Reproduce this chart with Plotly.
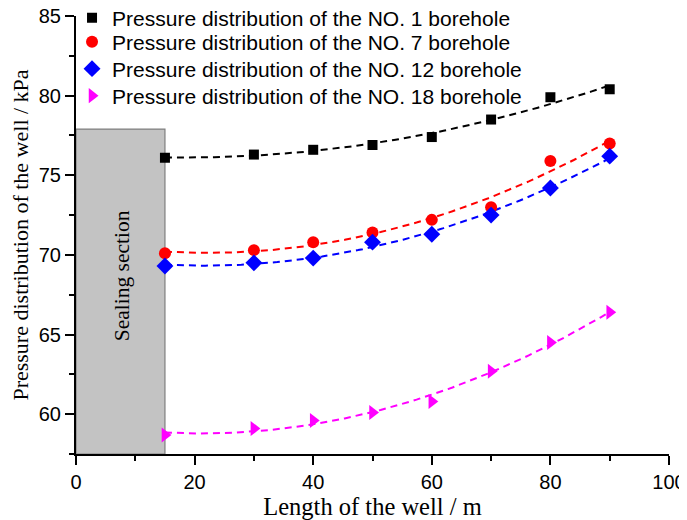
import numpy as np
import plotly.graph_objects as go

x_len = [15, 30, 40, 50, 60, 70, 80, 90]
no1 = [76.1, 76.3, 76.6, 76.9, 77.4, 78.5, 79.9, 80.4]
no7 = [70.1, 70.3, 70.8, 71.4, 72.2, 73.0, 75.9, 77.0]
no12 = [69.3, 69.5, 69.8, 70.8, 71.3, 72.5, 74.2, 76.2]
no18 = [58.7, 59.1, 59.6, 60.1, 60.8, 62.7, 64.5, 66.4]

names = ["Pressure distribution of the NO. 1 borehole",
         "Pressure distribution of the NO. 7 borehole",
         "Pressure distribution of the NO. 12 borehole",
         "Pressure distribution of the NO. 18 borehole"]
series = [no1, no7, no12, no18]
colors = ["#000000", "#ff0000", "#0000ff", "#ff00ff"]
symbols = ["square", "circle", "diamond", "triangle-right"]
sizes = [10, 12, 13, 13]
legend_ids = ["legend", "legend2", "legend3", "legend4"]

seal_x = [0, 15]
seal_y_top = 77.9

fig = go.Figure()

xf = np.linspace(min(x_len), max(x_len), 100)
for ys, c in zip(series, colors):
    coef = np.polyfit(x_len, ys, 2)
    fig.add_trace(go.Scatter(x=xf, y=np.polyval(coef, xf), mode="lines",
                             line=dict(color=c, width=2, dash="7px,5px"),
                             showlegend=False, hoverinfo="skip"))

for ys, n, c, s, sz, lg in zip(series, names, colors, symbols, sizes, legend_ids):
    fig.add_trace(go.Scatter(x=x_len, y=ys, mode="markers", name=n, legend=lg,
                             marker=dict(color=c, symbol=s, size=sz, line=dict(width=0))))

fig.add_shape(type="rect", x0=seal_x[0], x1=seal_x[1], y0=57.5, y1=seal_y_top,
              xref="x", yref="y", fillcolor="#c3c3c3",
              line=dict(color="#7f7f7f", width=1.2), layer="below")
fig.add_annotation(x=7.7, y=68.7, xref="x", yref="y", text="Sealing section",
                   textangle=-90, showarrow=False,
                   font=dict(family="Liberation Serif", size=21.5, color="black"))

axis_common = dict(showline=True, linecolor="black", linewidth=2, ticks="outside",
                   ticklen=9, tickwidth=2, tickcolor="black", showgrid=False,
                   zeroline=False, mirror=False, automargin=False,
                   ticklabeloverflow="allow",
                   tickfont=dict(family="Liberation Sans", size=20, color="black"))

fig.update_xaxes(range=[0, 100], dtick=20, tick0=0,
                 minor=dict(dtick=10, ticks="outside", ticklen=5, tickwidth=2, tickcolor="black"),
                 title=dict(text="Length of the well / m",
                            font=dict(family="Liberation Serif", size=24.5, color="black"),
                            standoff=6),
                 **axis_common)
fig.update_yaxes(range=[57.5, 85], dtick=5, tick0=60,
                 minor=dict(dtick=2.5, ticks="outside", ticklen=5, tickwidth=2, tickcolor="black"),
                 title=dict(text="Pressure distribution of the well / kPa",
                            font=dict(family="Liberation Serif", size=22, color="black"),
                            standoff=10),
                 **axis_common)

leg_common = dict(xanchor="left", yanchor="middle", bgcolor="rgba(0,0,0,0)", borderwidth=0,
                  font=dict(family="Liberation Sans", size=21, color="black"),
                  itemsizing="trace", x=-0.0067)

fig.update_layout(
    width=679, height=512,
    margin=dict(l=68, r=18, t=8, b=66, autoexpand=False),
    plot_bgcolor="white", paper_bgcolor="white",
    showlegend=True,
    legend=dict(y=0.9954, **leg_common),
    legend2=dict(y=0.9406, **leg_common),
    legend3=dict(y=0.8790, **leg_common),
    legend4=dict(y=0.8174, **leg_common),
)

fig.write_html("out.html")
